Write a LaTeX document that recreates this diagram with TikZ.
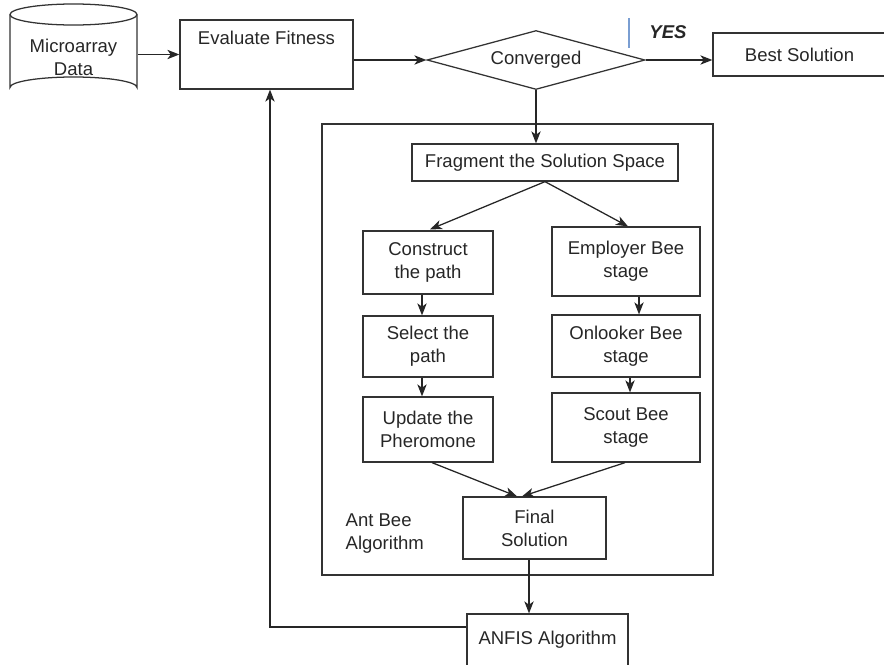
\documentclass[tikz,border=0pt]{standalone}
\usepackage{fontspec}
\setmainfont{Liberation Sans}
\usetikzlibrary{arrows.meta,shapes.geometric,calc}

\begin{document}
\begin{tikzpicture}[
  x=0.75pt, y=-0.75pt,
  line width=0.95pt,
  every node/.style={font=\fontsize{13.9}{17.3}\selectfont, text=black!85},
  box/.style={draw=black!80, inner sep=0pt, align=center},
  size/.style 2 args={minimum width=#1*0.75pt, minimum height=#2*0.75pt},
  arr/.style={draw=black!85, -{Stealth[length=9pt,width=7pt,inset=2.5pt]}},
  link/.style={draw=black!80},
]
\useasboundingbox (0,0) rectangle (884,664);

% database cylinder
\draw[link] (10,14.5) -- (10,87.5)
  arc[start angle=180, end angle=360, x radius=63.5, y radius=10.5] -- (137,14.5);
\draw[link] (73.5,14.5) ellipse[x radius=63.5, y radius=10.5];
\node[draw=none, inner sep=0pt, size={127}{94}] (data) at (73.5,51) {};
\node[align=center] at (73.5,57.5) {Microarray\\Data};

% top row
\node[box, size={173}{69}] (eval) at (266.5,54.5) {};
\node at (266.5,38) {Evaluate Fitness};
\node[draw=black!80, shape=diamond, aspect=3.7, inner sep=0pt,
      minimum width=163.5pt, minimum height=44.25pt] (conv) at (536,60) {Converged};
\node[box, size={173}{43}] (best) at (799.5,54.5) {Best Solution};
\draw[draw={rgb,255:red,122;green,158;blue,210}, line width=1pt] (629,18) -- (629,48);
\node[font=\fontsize{13.9}{17.3}\selectfont\bfseries\itshape] at (668,32) {YES};

% Ant Bee algorithm block
\draw[link] (322,124) rectangle (713,575);
\node[box, size={266}{37}] (frag) at (545,162.5) {Fragment the Solution Space};
\node[box, size={130}{63}] (construct) at (428,262.5) {Construct\\the path};
\node[box, size={130}{61}] (select) at (428,346.5) {Select the\\path};
\node[box, size={130}{65}] (update) at (428,429.5) {Update the\\Pheromone};
\node[box, size={148}{69}] (employer) at (626,261.5) {Employer Bee\\stage};
\node[box, size={148}{62}] (onlooker) at (626,346) {Onlooker Bee\\stage};
\node[box, size={148}{69}] (scout) at (626,427.5) {Scout Bee\\stage};
\node[box, size={143}{62}] (final) at (534.5,528) {Final\\Solution};
\node[align=left, anchor=west, inner sep=0pt] at (345,533.5) {Ant Bee\\Algorithm};

\node[box, size={161}{52}] (anfis) at (547.5,640) {ANFIS Algorithm};

% helper coordinates for connector routes
\coordinate (fx) at (529,0);
\coordinate (fbk) at (270,627);

% connectors
\draw[arr] (data.east |- eval.west) -- (eval.west);
\draw[arr] (eval.east |- conv.west) -- (conv.west);
\draw[arr] (conv.east) -- (best.west |- conv.east);
\draw[arr] (conv.south) -- (frag.north -| conv.south);
\draw[arr] (frag.south) -- ($(construct.north)+(2,-1)$);
\draw[arr] (frag.south) -- ($(employer.north)+(2,0)$);
\draw[arr] ($(construct.south)+(-6,0)$) -- ($(select.north)+(-6,0)$);
\draw[arr] ($(select.south)+(-6,0)$) -- ($(update.north)+(-6,0)$);
\draw[arr] ($(employer.south)+(13,0)$) -- ($(onlooker.north)+(13,0)$);
\draw[arr] ($(onlooker.south)+(4,0)$) -- ($(scout.north)+(4,0)$);
\draw[arr] ($(update.south)+(4,0)$) -- ($(final.north)+(-17.5,0)$);
\draw[arr] ($(scout.south)+(-1,0)$) -- ($(final.north)+(-12.5,0)$);
\draw[arr] (final.south -| fx) -- (anfis.north -| fx);
\draw[arr] (anfis.west |- fbk) -- (fbk) -- (eval.south -| fbk);
\end{tikzpicture}
\end{document}
